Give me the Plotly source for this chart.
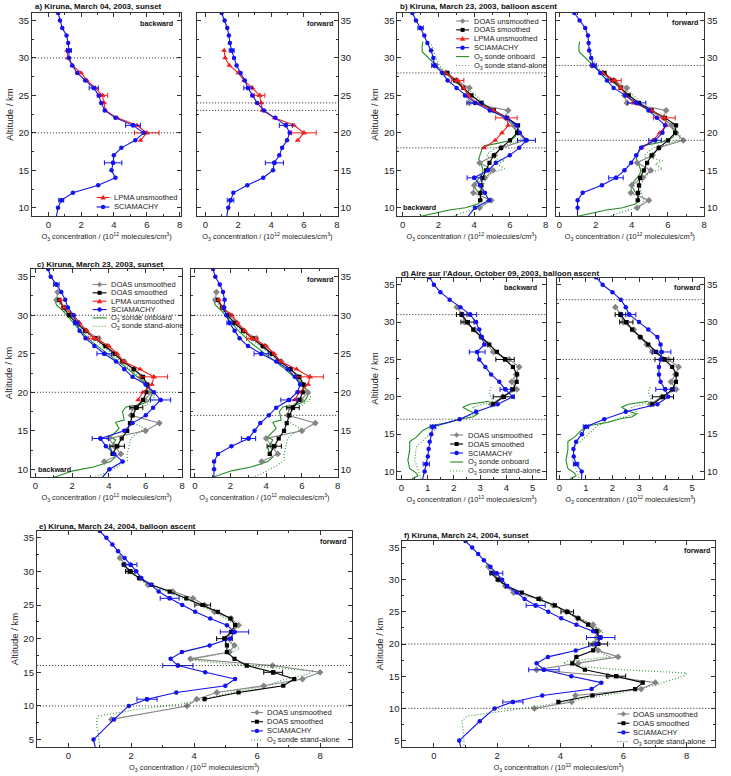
import plotly.graph_objects as go

W, H = 731, 776
FONT = "Liberation Sans, Arial, sans-serif"
BLUE = "#1212ee"
RED = "#f51c1c"
GRAY = "#858585"
BLACK = "#000000"
GREEN = "#238c23"
GREEN_DOT = "#3c9a3c"

# ---------------- data ----------------
ALT_S = list(range(36, 9, -1)) + [8]          # SCIAMACHY altitude grid (km)
ALT_EF = list(range(36, 9, -1)) + [8, 5, 3]   # SCIAMACHY grid, panels e/f

# a) Kiruna, March 04, 2003, sunset
A_SCIA_BW = [0.60, 0.71, 0.85, 1.11, 1.21, 1.26, 1.26, 1.46, 1.76, 2.25, 2.77, 3.08, 3.22, 3.44,
             4.09, 5.16, 5.81, 5.30, 4.45, 3.99, 3.95, 3.85, 4.09, 3.04, 1.50, 0.79, 0.59, 0.43]
A_SCIA_FW = [0.99, 1.17, 1.33, 1.43, 1.49, 1.60, 1.74, 1.90, 2.14, 2.40, 2.59, 2.85, 3.15, 3.56,
             4.26, 4.90, 5.13, 4.97, 4.67, 4.50, 4.20, 4.12, 3.52, 2.55, 1.70, 1.53, 1.39, 1.23]
A_BW_ERR = {31: 0.15, 26: 0.28, 21: 0.45, 16: 0.53, 11: 0.15}
A_FW_ERR = {31: 0.15, 26: 0.25, 21: 0.40, 16: 0.55, 11: 0.20}
A_LPMA_ALT = list(range(31, 18, -1))
A_LPMA = [1.14, 1.20, 1.46, 2.00, 2.35, 2.86, 3.30, 3.40, 3.48, 4.20, 5.40, 6.00, 5.62]
A_LPMA_ERR = {25: 0.32, 20: 0.75}

# b) Kiruna, March 23, 2003, balloon ascent
B_SCIA_BW = [0.54, 0.74, 1.00, 1.21, 1.38, 1.58, 1.71, 1.77, 2.21, 2.51, 3.01, 3.48, 4.04, 4.87,
             5.80, 6.36, 6.55, 6.92, 6.51, 5.99, 5.21, 4.78, 4.00, 4.32, 4.60, 4.84, 4.04, 3.37]
B_SCIA_FW = [0.83, 1.12, 1.43, 1.58, 1.62, 1.65, 1.76, 1.89, 2.26, 2.63, 3.00, 3.64, 4.28, 4.93,
             5.39, 5.85, 5.70, 5.29, 4.52, 4.25, 3.97, 3.60, 3.13, 2.35, 1.29, 1.01, 1.01, 1.00]
B_BW_ERR = {34: 0.15, 29: 0.15, 24: 0.45, 19: 0.50, 14: 0.40}
B_FW_ERR = {29: 0.15, 24: 0.50, 19: 0.35, 14: 0.40}
B_DOAS_S_ALT = list(range(28, 10, -1))
B_DOAS_S = [2.50, 2.93, 3.39, 3.84, 4.40, 5.10, 5.84, 6.45, 6.40, 6.00, 5.50, 5.10, 4.85, 4.67,
            4.46, 4.40, 4.35, 4.33]
B_DOAS_U_ALT = list(range(29, 9, -1))
B_DOAS_U = [1.80, 2.40, 3.00, 3.73, 3.60, 3.73, 5.90, 5.75, 6.20, 6.45, 6.85, 5.50, 5.15, 4.30,
            5.05, 4.60, 4.00, 3.95, 4.95, 4.30]
B_LPMA_ALT = list(range(28, 17, -1))
B_LPMA = [2.38, 3.07, 3.40, 3.68, 4.12, 5.08, 5.80, 5.90, 5.55, 5.17, 4.55]
B_LPMA_ERR = {27: 0.35, 22: 0.60}
B_SONDE_ON_ALT = [32.2, 31.5, 30.8, 30.3, 29.6, 28.8, 28.2, 27.0, 26.0, 25.0, 24.0, 23.0, 22.2, 21.2,
                  20.2, 19.5, 19.0, 18.6, 18.3, 18.0, 17.3, 16.5, 15.7, 15.0, 14.5, 13.8, 13.0, 12.3,
                  11.5, 11.0, 10.5, 10.0, 9.7, 9.3, 9.0, 8.8]
B_SONDE_ON = [1.12, 1.08, 1.10, 1.30, 1.60, 1.95, 2.25, 2.85, 3.40, 3.85, 4.35, 4.95, 5.60, 6.10,
              6.35, 6.30, 6.05, 5.30, 4.60, 4.45, 4.35, 4.25, 4.40, 4.50, 4.45, 4.20, 3.95, 4.15,
              4.35, 4.45, 4.20, 3.50, 2.60, 1.80, 1.20, 0.90]
B_SONDE_SA_ALT = [31.8, 31.0, 30.0, 29.0, 28.0, 27.0, 26.0, 25.0, 24.0, 23.0, 22.0, 21.0, 20.3, 19.5,
                  19.0, 18.5, 18.0, 17.3, 16.8, 16.3, 15.8, 15.2, 14.7, 14.0, 13.0, 12.0, 11.0, 10.3,
                  9.8, 9.3, 8.8]
B_SONDE_SA = [1.60, 1.70, 1.85, 2.05, 2.40, 2.95, 3.55, 4.10, 4.50, 5.00, 5.70, 6.15, 6.50, 6.70,
              6.55, 6.00, 5.20, 4.80, 4.70, 5.70, 5.30, 5.70, 5.00, 4.70, 4.50, 4.50, 4.70, 4.50,
              4.00, 3.30, 2.70]

# c) Kiruna, March 23, 2003, sunset
C_SCIA_BW = [0.69, 0.83, 1.14, 1.41, 1.62, 1.77, 2.08, 2.22, 2.40, 2.73, 3.21, 3.75, 4.39, 4.84,
             5.29, 6.01, 6.46, 6.82, 6.41, 6.01, 5.29, 4.84, 3.54, 3.84, 4.30, 4.75, 4.03, 3.29]
C_SCIA_FW = [1.02, 1.15, 1.40, 1.58, 1.67, 1.64, 1.77, 1.95, 2.23, 2.51, 2.98, 3.72, 4.56, 5.21,
             5.60, 5.90, 5.75, 5.27, 4.56, 4.15, 3.67, 3.35, 3.01, 2.05, 1.30, 1.08, 1.08, 1.06]
C_BW_ERR = {34: 0.15, 29: 0.15, 25: 0.40, 19: 0.55, 14: 0.45}
C_FW_ERR = {29: 0.15, 25: 0.40, 19: 0.45, 14: 0.40}
C_DOAS_S_ALT = list(range(32, 11, -1))
C_DOAS_S = [1.30, 1.53, 1.82, 2.23, 2.70, 3.26, 3.81, 4.32, 4.74, 5.36, 5.86, 6.10, 6.05, 5.86,
            5.50, 5.30, 5.15, 5.00, 4.70, 4.45, 4.20]
C_DOAS_S_ERR = {18: 0.35, 13: 0.40}
C_DOAS_U_ALT = list(range(33, 10, -1))
C_DOAS_U = [1.21, 1.15, 1.60, 1.95, 2.33, 2.75, 3.44, 3.91, 4.28, 4.84, 5.36, 5.77, 6.05, 6.33,
            5.95, 5.30, 5.21, 6.75, 6.00, 4.00, 4.30, 4.65, 3.75]
C_LPMA_ALT = list(range(32, 18, -1))
C_LPMA = [1.35, 1.55, 2.08, 2.40, 2.80, 3.20, 4.00, 4.45, 4.80, 5.70, 6.45, 6.35, 5.85, 5.60]
C_LPMA_ERR = {27: 0.30, 22: 0.75}
C_SONDE_ON_ALT = [32.0, 31.3, 30.7, 29.6, 28.1, 26.5, 24.8, 23.1, 21.4, 20.5, 19.6, 18.8, 18.3, 18.1,
                  17.5, 16.4, 16.1, 15.3, 14.2, 13.8, 12.9, 12.0, 11.6, 11.0, 10.3, 9.8, 9.2, 8.8]
C_SONDE_ON = [1.05, 1.15, 1.45, 1.86, 2.40, 3.10, 4.05, 5.00, 5.85, 6.18, 6.33, 6.14, 5.58, 4.93,
              4.74, 4.84, 4.37, 4.56, 4.09, 4.37, 4.09, 4.19, 4.37, 4.09, 3.16, 2.05, 1.30, 0.80]
C_SONDE_SA_ALT = [31.5, 30.5, 29.0, 28.0, 27.0, 26.0, 25.0, 24.0, 23.0, 22.0, 21.0, 20.2, 19.5, 19.0,
                  18.3, 17.8, 17.0, 16.2, 15.3, 14.6, 14.0, 13.0, 12.0, 11.2, 10.5, 10.1, 9.5, 9.0, 8.8]
C_SONDE_SA = [1.30, 1.60, 2.20, 2.60, 3.10, 3.65, 4.20, 4.65, 5.15, 5.65, 6.05, 6.35, 6.50, 6.40,
              6.00, 5.50, 5.30, 5.20, 5.95, 5.50, 5.20, 5.10, 5.00, 5.02, 4.60, 4.28, 3.80, 3.26, 3.00]

# d) Aire sur l'Adour, October 09, 2003, balloon ascent
D_SCIA_BW = [1.08, 1.24, 1.49, 1.84, 2.25, 2.62, 2.85, 2.97, 3.06, 3.16, 2.89, 2.97, 3.20, 3.42,
             3.73, 3.96, 4.24, 3.67, 2.85, 2.22, 1.20, 1.14, 1.08, 1.04, 1.01, 0.95, 0.89, 0.75]
D_SCIA_FW = [1.38, 1.63, 2.00, 2.31, 2.50, 2.63, 3.00, 3.35, 3.69, 3.81, 3.85, 3.81, 3.75, 3.75,
             3.81, 3.98, 4.10, 3.69, 2.50, 1.69, 1.00, 0.85, 0.63, 0.53, 0.54, 0.63, 0.84, 0.84]
D_BW_ERR = {31: 0.25, 26: 0.30, 21: 0.20, 16: 0.10, 11: 0.12}
D_FW_ERR = {31: 0.25, 26: 0.35, 21: 0.35, 16: 0.10, 11: 0.10}
D_DOAS_S_ALT = list(range(31, 18, -1))
D_DOAS_S = [2.30, 2.52, 2.74, 3.05, 3.35, 3.64, 3.95, 4.25, 4.41, 4.39, 4.25, 3.90, 3.50]
D_DOAS_S_ERR = {31: 0.20, 30: 0.25, 25: 0.35, 20: 0.40}
D_DOAS_U_ALT = list(range(32, 18, -1))
D_DOAS_U = [2.11, 2.32, 2.40, 2.80, 3.04, 3.29, 3.50, 4.11, 4.49, 4.37, 4.20, 4.40, 3.86, 3.42]
D_SONDE_ON_ALT = [19.4, 19.0, 18.6, 18.1, 17.7, 17.3, 17.1, 16.6, 16.2, 15.5, 14.6, 14.0, 12.9, 11.5,
                  10.4, 9.8, 9.4, 9.1, 8.9]
D_SONDE_ON = [3.35, 2.60, 2.34, 2.60, 2.91, 2.72, 2.34, 1.84, 1.20, 0.82, 0.57, 0.32, 0.32, 0.25,
              0.32, 0.57, 0.63, 0.44, 0.40]
D_SONDE_SA_ALT = [21.3, 20.6, 19.4, 18.6, 17.8, 17.2, 16.2, 15.0, 13.3, 11.5, 9.8, 9.0]
D_SONDE_SA = [3.42, 3.35, 3.48, 2.72, 2.97, 2.34, 1.46, 1.08, 0.57, 0.51, 0.70, 0.76]

# e) / f) Kiruna, March 24, 2004
EF_SCIA = [1.00, 1.21, 1.40, 1.58, 1.79, 1.98, 2.16, 2.32, 2.62, 2.87, 3.22, 3.62, 4.03, 4.51, 5.04,
           5.28, 5.14, 4.49, 3.61, 3.25, 3.48, 4.35, 5.30, 4.99, 3.43, 2.50, 1.92, 1.45, 0.80, 0.90]
EF_ERR = {31: 0.20, 26: 0.30, 21: 0.45, 16: 0.48, 11: 0.32}
E_DOAS_S_ALT = list(range(31, 10, -1))
E_DOAS_S = [1.76, 1.97, 2.25, 2.64, 3.22, 3.75, 4.27, 4.75, 5.15, 5.30, 5.17, 4.96, 5.04, 5.04,
            5.28, 5.67, 6.51, 7.18, 6.83, 5.41, 4.33]
E_DOAS_S_ERR = {30: 0.15, 25: 0.25, 20: 0.25, 15: 0.30}
E_DOAS_U_ALT = list(range(32, 9, -1)) + [8]
E_DOAS_U = [1.64, 1.80, 1.90, 2.27, 2.53, 3.32, 3.96, 4.33, 4.64, 5.17, 5.41, 5.22, 5.01, 5.28,
            5.12, 3.88, 6.49, 8.00, 7.44, 6.21, 4.72, 4.08, 3.77, 1.37]
E_SONDE_SA_ALT = [32.2, 31, 30, 29, 28, 27, 26, 25, 24, 23, 22, 21, 20, 19, 18.5, 18, 17.3, 16.8,
                  16.3, 15.7, 15.2, 14.7, 14, 13, 12, 11, 10.3, 9.5, 9, 8.5, 8, 7, 6, 5, 4]
E_SONDE_SA = [1.58, 1.80, 1.95, 2.20, 2.55, 3.10, 3.70, 4.20, 4.60, 5.00, 5.30, 5.25, 5.05, 5.25,
              5.45, 5.15, 4.30, 3.90, 5.00, 6.50, 7.80, 7.60, 6.90, 6.30, 5.20, 4.30, 3.60, 2.20,
              1.50, 0.95, 0.90, 0.90, 0.95, 0.97, 1.00]
F_DOAS_S_ALT = list(range(31, 10, -1))
F_DOAS_S = [1.82, 2.02, 2.31, 2.78, 3.31, 3.83, 4.22, 4.57, 4.88, 5.14, 5.25, 5.20, 5.04, 4.51,
            4.38, 4.78, 5.77, 6.61, 6.37, 5.02, 3.94]
F_DOAS_S_ERR = {25: 0.20, 20: 0.30, 15: 0.30}
F_DOAS_U_ALT = list(range(32, 9, -1))
F_DOAS_U = [1.73, 1.89, 2.05, 2.26, 2.52, 3.36, 3.78, 4.20, 4.55, 5.04, 5.20, 5.15, 5.04, 5.20,
            5.83, 4.57, 3.25, 5.51, 7.01, 6.56, 4.48, 4.36, 3.18]
F_SONDE_SA_ALT = [32.3, 31, 30, 29, 28, 27, 26, 25, 24, 23, 22, 21, 20, 19, 18, 17.3, 17, 16.5, 16,
                  15.5, 15, 14.3, 13.5, 12.5, 11.5, 10.5, 10, 9.3, 8.8, 8.1, 7, 6, 5.1, 4]
F_SONDE_SA = [1.65, 1.80, 2.00, 2.25, 2.60, 3.25, 3.80, 4.25, 4.65, 5.00, 5.35, 5.30, 5.00, 5.15,
              5.60, 4.20, 4.10, 4.60, 6.00, 8.00, 7.90, 7.45, 6.90, 6.00, 4.80, 3.50, 2.83, 1.80,
              1.05, 0.89, 0.90, 0.93, 0.95, 0.95]

TITLES = ["a) Kiruna, March 04, 2003, sunset",
          "b) Kiruna, March 23, 2003, balloon ascent",
          "c) Kiruna, March 23, 2003, sunset",
          "d) Aire sur l'Adour, October 09, 2003, balloon ascent",
          "e) Kiruna, March 24, 2004, balloon ascent",
          "f) Kiruna, March 24, 2004, sunset"]
REF_LINES = [[30, 20], [24, 23], [28, 18], [29, 19], [30, 20], [30, 17], [31, 17], [33, 25],
             [16, 10], [20, 10]]
XTITLE = "O<sub>3</sub> concentration / (10<sup>12</sup> molecules/cm<sup>3</sup>)"

# ---------------- layout geometry (pixels) ----------------
PANELS = [
    dict(box=(32, 182, 13, 216), xr=[-1, 8.1], yr=[8.9, 36], side="left", dx=2, dy=5),
    dict(box=(198, 339, 13, 216), xr=[-0.5, 8.05], yr=[8.9, 36], side="right", dx=2, dy=5),
    dict(box=(399, 548, 13, 216), xr=[-0.3, 8.0], yr=[8.9, 36], side="left", dx=2, dy=5),
    dict(box=(558, 707, 13, 216), xr=[-0.2, 8.0], yr=[8.9, 36], side="right", dx=2, dy=5),
    dict(box=(31, 183, 269, 477), xr=[-0.25, 8.0], yr=[9, 36], side="left", dx=2, dy=5),
    dict(box=(192, 339, 269, 477), xr=[-0.2, 8.0], yr=[9, 36], side="right", dx=2, dy=5),
    dict(box=(399, 548, 278, 479), xr=[-0.15, 5.5], yr=[9, 35.9], side="left", dx=1, dy=5),
    dict(box=(559, 707, 278, 479), xr=[-0.1, 5.45], yr=[9, 35.9], side="right", dx=1, dy=5),
    dict(box=(37, 353, 531, 747), xr=[-1, 9], yr=[3.9, 36], side="left", dx=2, dy=5),
    dict(box=(404, 718, 541, 747), xr=[-1, 8.9], yr=[4, 36], side="left", dx=2, dy=5),
]

DOT = "1px,2px"


def px(x):
    return x / W


def py(y):
    return 1 - y / H


def axn(i):
    return "" if i == 1 else str(i)


fig = go.Figure()
shapes, annots = [], []

SYM = {"circle": "circle", "square": "square", "tri": "triangle-up", "dia": "diamond"}
MSIZE = {"circle": 4.5, "square": 4.2, "tri": 5.2, "dia": 5.2}


def add_series(i, alts, vals, color, sym=None, dash="solid", width=1.1, errs=None):
    xa, ya = "x" + axn(i), "y" + axn(i)
    fig.add_trace(go.Scatter(
        x=vals, y=alts, mode="lines+markers" if sym else "lines", xaxis=xa, yaxis=ya,
        line=dict(color=color, width=width, dash=dash),
        marker=dict(symbol=SYM.get(sym, "circle"), size=MSIZE.get(sym, 4), color=color,
                    line=dict(width=0)),
        showlegend=False, hoverinfo="skip"))
    if errs:
        ea = list(errs.keys())
        ev = [vals[alts.index(a)] for a in ea]
        fig.add_trace(go.Scatter(
            x=ev, y=ea, mode="markers", xaxis=xa, yaxis=ya,
            marker=dict(symbol=SYM.get(sym, "circle"), size=MSIZE.get(sym, 4), color=color,
                        line=dict(width=0)),
            error_x=dict(type="data", array=list(errs.values()), color=color, thickness=1, width=2.5),
            showlegend=False, hoverinfo="skip"))


def balloon_set(i, on, sa, du, ds, lp, scia):
    if on:
        add_series(i, on[0], on[1], GREEN, None, "solid", 1.1)
    if sa:
        add_series(i, sa[0], sa[1], GREEN_DOT, None, DOT, 1.2)
    if du:
        add_series(i, du[0], du[1], GRAY, "dia", errs=du[2] if len(du) > 2 else None)
    if ds:
        add_series(i, ds[0], ds[1], BLACK, "square", errs=ds[2] if len(ds) > 2 else None)
    if lp:
        add_series(i, lp[0], lp[1], RED, "tri", errs=lp[2])
    add_series(i, scia[0], scia[1], BLUE, "circle", errs=scia[2])


# a
balloon_set(1, None, None, None, None, (A_LPMA_ALT, A_LPMA, A_LPMA_ERR), (ALT_S, A_SCIA_BW, A_BW_ERR))
balloon_set(2, None, None, None, None, (A_LPMA_ALT, A_LPMA, A_LPMA_ERR), (ALT_S, A_SCIA_FW, A_FW_ERR))
# b
for i, sc, er in [(3, B_SCIA_BW, B_BW_ERR), (4, B_SCIA_FW, B_FW_ERR)]:
    balloon_set(i, (B_SONDE_ON_ALT, B_SONDE_ON), (B_SONDE_SA_ALT, B_SONDE_SA),
                (B_DOAS_U_ALT, B_DOAS_U), (B_DOAS_S_ALT, B_DOAS_S),
                (B_LPMA_ALT, B_LPMA, B_LPMA_ERR), (ALT_S, sc, er))
# c
for i, sc, er in [(5, C_SCIA_BW, C_BW_ERR), (6, C_SCIA_FW, C_FW_ERR)]:
    balloon_set(i, (C_SONDE_ON_ALT, C_SONDE_ON), (C_SONDE_SA_ALT, C_SONDE_SA),
                (C_DOAS_U_ALT, C_DOAS_U), (C_DOAS_S_ALT, C_DOAS_S, C_DOAS_S_ERR),
                (C_LPMA_ALT, C_LPMA, C_LPMA_ERR), (ALT_S, sc, er))
# d
for i, sc, er in [(7, D_SCIA_BW, D_BW_ERR), (8, D_SCIA_FW, D_FW_ERR)]:
    balloon_set(i, (D_SONDE_ON_ALT, D_SONDE_ON), (D_SONDE_SA_ALT, D_SONDE_SA),
                (D_DOAS_U_ALT, D_DOAS_U), (D_DOAS_S_ALT, D_DOAS_S, D_DOAS_S_ERR),
                None, (ALT_S, sc, er))
# e, f
balloon_set(9, None, (E_SONDE_SA_ALT, E_SONDE_SA), (E_DOAS_U_ALT, E_DOAS_U),
            (E_DOAS_S_ALT, E_DOAS_S, E_DOAS_S_ERR), None, (ALT_EF, EF_SCIA, EF_ERR))
balloon_set(10, None, (F_SONDE_SA_ALT, F_SONDE_SA), (F_DOAS_U_ALT, F_DOAS_U),
            (F_DOAS_S_ALT, F_DOAS_S, F_DOAS_S_ERR), None, (ALT_EF, EF_SCIA, EF_ERR))

# ---------------- axes ----------------
layout_axes = {}
AXC = "#333333"
for i, p in enumerate(PANELS, 1):
    x0, x1, y0, y1 = p["box"]
    layout_axes["xaxis" + axn(i)] = dict(
        domain=[px(x0), px(x1)], range=p["xr"], anchor="y" + axn(i), dtick=p["dx"], tick0=0,
        ticks="inside", ticklen=4, tickwidth=1, tickcolor=AXC,
        minor=dict(dtick=p["dx"] / 2, ticks="inside", ticklen=2, tickcolor=AXC, showgrid=False),
        showline=True, linecolor=AXC, linewidth=1, mirror="ticks", showgrid=False, zeroline=False,
        tickfont=dict(size=9.5, color="#222"),
        title=dict(text=XTITLE, font=dict(size=7.4, color="#222"), standoff=4))
    ya = dict(
        domain=[py(y1), py(y0)], range=p["yr"], anchor="x" + axn(i), side=p["side"], dtick=p["dy"],
        tick0=0, ticks="inside", ticklen=4, tickwidth=1, tickcolor=AXC,
        minor=dict(dtick=p["dy"] / 2, ticks="inside", ticklen=2, tickcolor=AXC, showgrid=False),
        showline=True, linecolor=AXC, linewidth=1, mirror="ticks", showgrid=False, zeroline=False,
        tickfont=dict(size=9.5, color="#222"))
    if p["side"] == "left":
        ya["title"] = dict(text="Altitude / km", font=dict(size=9.5, color="#222"), standoff=3)
    layout_axes["yaxis" + axn(i)] = ya
    for alt in REF_LINES[i - 1]:
        shapes.append(dict(type="line", xref="x" + axn(i) + " domain", yref="y" + axn(i),
                           x0=0, x1=1, y0=alt, y1=alt, line=dict(color="#222", width=1, dash=DOT)))

# ---------------- text ----------------
TITLE_POS = [(33, 7), (400, 7), (35, 264.5), (401, 273.5), (37, 526), (404, 535)]
for t, (x, y) in zip(TITLES, TITLE_POS):
    annots.append(dict(text="<b>" + t + "</b>", x=px(x), y=py(y), xref="paper", yref="paper",
                       xanchor="left", yanchor="middle", showarrow=False,
                       font=dict(size=8, color="#111")))

SCAN_LABELS = [("backward", 176, 23, "right"), ("forward", 336, 23, "right"),
               ("backward", 403, 208, "left"), ("forward", 703, 22, "right"),
               ("backward", 36, 470, "left"), ("forward", 336, 279, "right"),
               ("backward", 541, 287, "right"), ("forward", 705, 287, "right"),
               ("forward", 349, 541, "right"), ("forward", 715, 550, "right")]
for t, x, y, anc in SCAN_LABELS:
    annots.append(dict(text="<b>" + t + "</b>", x=px(x), y=py(y), xref="paper", yref="paper",
                       xanchor=anc, yanchor="middle", showarrow=False,
                       font=dict(size=7.2, color="#111")))

# ---------------- legends (drawn as layout decorations) ----------------
L_DU = ("DOAS unsmoothed", GRAY, "dia", "solid")
L_DS = ("DOAS smoothed", BLACK, "square", "solid")
L_LP = ("LPMA unsmoothed", RED, "tri", "solid")
L_SC = ("SCIAMACHY", BLUE, "circle", "solid")
L_ON = ("O<sub>3</sub> sonde onboard", GREEN, None, "solid")
L_SA = ("O<sub>3</sub> sonde stand-alone", GREEN_DOT, None, DOT)


def marker_shape(sym, cx, cy, color):
    if sym == "circle":
        r = 2.2
        return dict(type="circle", xref="paper", yref="paper", x0=px(cx - r), x1=px(cx + r),
                    y0=py(cy + r), y1=py(cy - r), fillcolor=color, line=dict(width=0))
    if sym == "square":
        r = 2.0
        return dict(type="rect", xref="paper", yref="paper", x0=px(cx - r), x1=px(cx + r),
                    y0=py(cy + r), y1=py(cy - r), fillcolor=color, line=dict(width=0))
    if sym == "tri":
        pts = [(cx, cy - 2.8), (cx + 2.7, cy + 2.0), (cx - 2.7, cy + 2.0)]
    else:
        pts = [(cx, cy - 2.8), (cx + 2.6, cy), (cx, cy + 2.8), (cx - 2.6, cy)]
    path = "M " + " L ".join(f"{px(a):.5f},{py(b):.5f}" for a, b in pts) + " Z"
    return dict(type="path", xref="paper", yref="paper", path=path, fillcolor=color,
                line=dict(width=0))


def draw_legend(entries, xs0, xs1, xt, y0, dy):
    for k, (label, color, sym, dash) in enumerate(entries):
        y = y0 + k * dy
        shapes.append(dict(type="line", xref="paper", yref="paper", x0=px(xs0), x1=px(xs1),
                           y0=py(y), y1=py(y), line=dict(color=color, width=1.1, dash=dash)))
        if sym:
            shapes.append(marker_shape(sym, (xs0 + xs1) / 2, y, color))
        annots.append(dict(text=label, x=px(xt), y=py(y), xref="paper", yref="paper",
                           xanchor="left", yanchor="middle", showarrow=False,
                           font=dict(size=7.5, color="#222")))


draw_legend([L_LP, L_SC], 97, 110, 112, 197.5, 9.5)
draw_legend([L_DU, L_DS, L_LP, L_SC, L_ON, L_SA], 458, 471, 473.5, 21, 8.9)
draw_legend([L_DU, L_DS, L_LP, L_SC, L_ON, L_SA], 93, 107, 109.5, 284.5, 8.35)
draw_legend([L_DU, L_DS, L_SC, L_ON, L_SA], 452, 465, 467.5, 435, 9.0)
draw_legend([L_DU, L_DS, L_SC, L_SA], 252, 264, 266, 712.5, 9.2)
draw_legend([L_DU, L_DS, L_SC, L_SA], 620, 632, 634, 714, 9.2)

fig.update_layout(
    width=W, height=H, margin=dict(l=0, r=0, t=0, b=0),
    paper_bgcolor="white", plot_bgcolor="white",
    font=dict(family=FONT, color="#222"),
    showlegend=False, shapes=shapes, annotations=annots, **layout_axes)

fig.write_html("out.html")
